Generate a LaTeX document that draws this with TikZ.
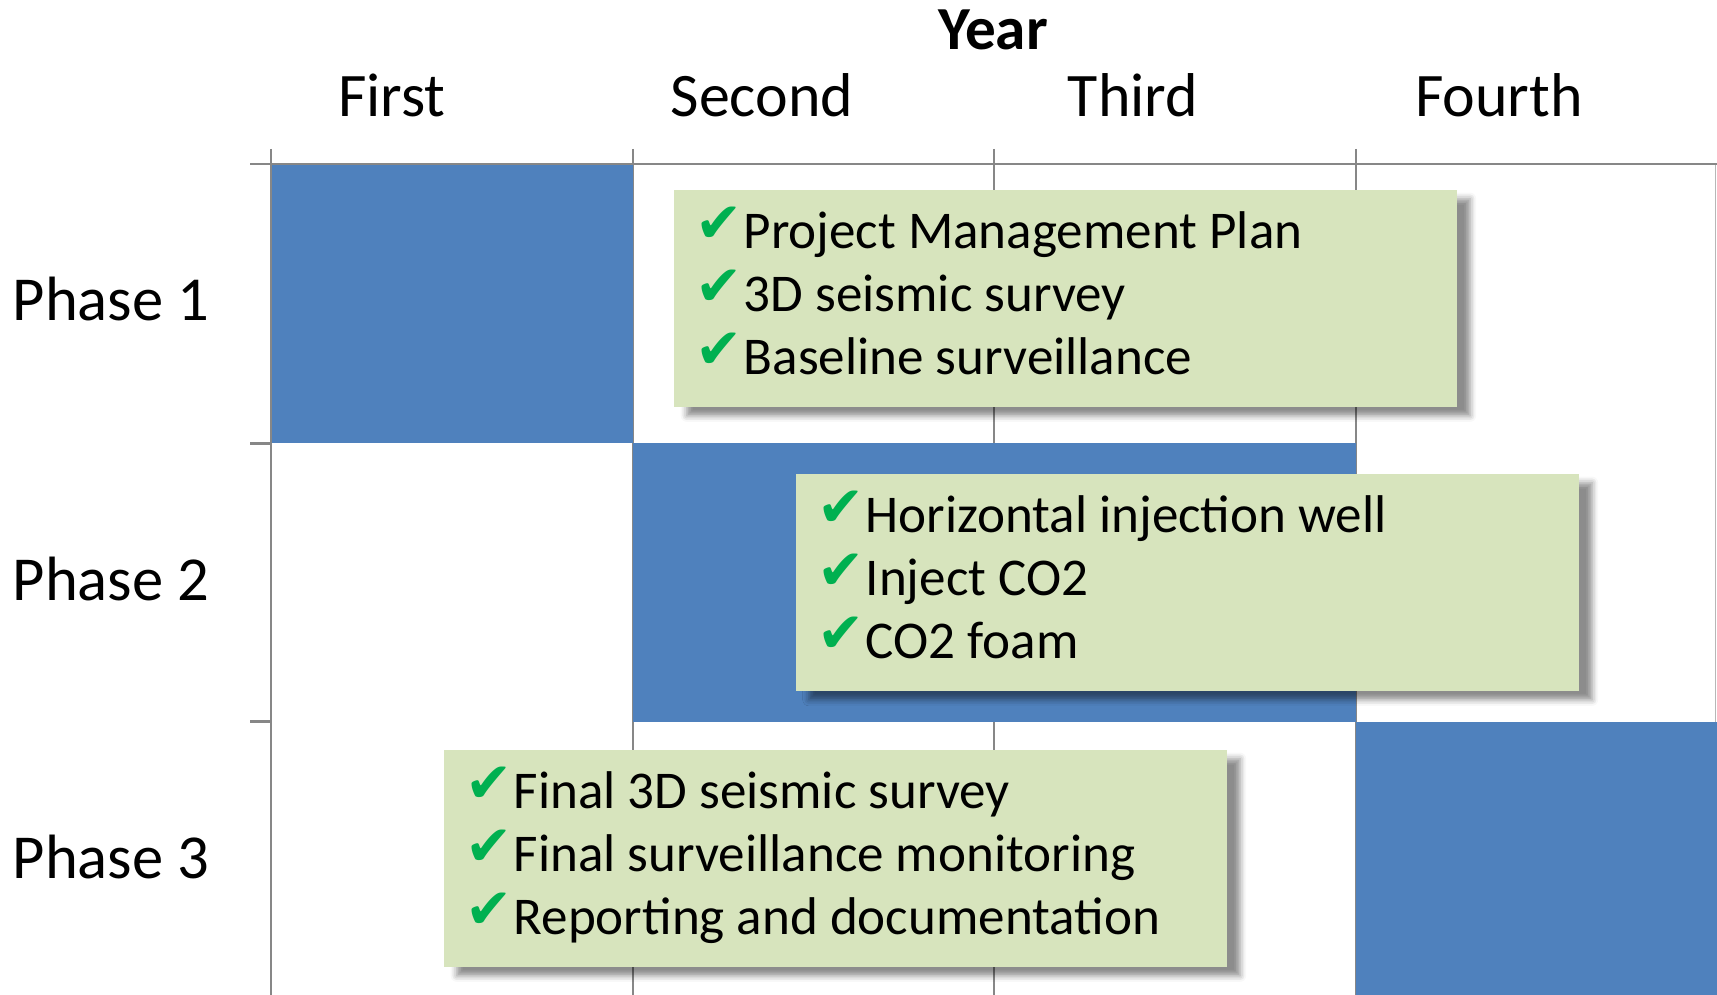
\documentclass[tikz,border=0pt]{standalone}
\usepackage{fontspec}
\setmainfont{Carlito}
\newfontfamily\symfont{DejaVu Sans}
\usepackage{tikz}
\usetikzlibrary{shadows.blur}
\usetikzlibrary{positioning}

\definecolor{barblue}{HTML}{4F81BD}
\definecolor{notegreen}{HTML}{D7E4BD}
\definecolor{tickgreen}{HTML}{00B050}
\definecolor{axisgray}{HTML}{878787}

\tikzset{
  bar/.style={fill=barblue},
  gridline/.style={draw=axisgray, line width=0.4pt},
  axisline/.style={draw=axisgray, line width=0.65pt},
  note/.style={fill=notegreen, anchor=north west, inner sep=0pt,
    minimum width=7.83cm, minimum height=2.17cm,
    blur shadow={shadow xshift=0.13cm, shadow yshift=-0.09cm,
      shadow blur radius=0.06cm, shadow opacity=45}},
  head/.style={anchor=base, font=\fontsize{17.6}{20}\selectfont},
  rowname/.style={anchor=base west, inner sep=0pt, font=\fontsize{17.8}{20}\selectfont},
  item/.style={anchor=base west, inner sep=0pt, font=\fontsize{15.1}{18}\selectfont},
  tick/.style={anchor=base west, inner sep=0pt, text=tickgreen, font=\symfont\fontsize{16}{18}\selectfont}
}

\begin{document}
\begin{tikzpicture}[x=0.01cm, y=-0.01cm]
\useasboundingbox (0,0) rectangle (1717,995);

% grid behind the bars
\foreach \x in {633,994,1356}
  \draw[gridline] (\x,149) -- (\x,995);
\draw[gridline, draw=axisgray!60] (1715.5,164) -- (1715.5,722);

% phase bars
\fill[bar] (271,164) rectangle (633,443.5);
\fill[bar] (633,443.5) rectangle (1356,721.6);
\fill[bar] (1356,721.6) rectangle (1717,995);

% axes
\draw[axisline] (250,164) -- (1717,164);
\draw[axisline] (271,149) -- (271,995);
\foreach \y in {443.5,721.6}
  \draw[axisline] (250,\y) -- (271,\y);

% headings
\node[head, font=\bfseries\fontsize{17.4}{20}\selectfont] (year) at (993,50) {Year};
\foreach \x/\t [count=\i] in {392/First, 762/Second, 1133/Third, 1499/Fourth}
  \node[head] (col\i) at (\x,117) {\t};
\foreach \y [count=\i] in {321,601,879}
  \node[rowname] (phase\i) at (12,\y) {Phase \i};

% notes
\node[note] (note1) at (673,189) {};
\node[note] (note2) at (795,473) {};
\node[note] (note3) at (443,749) {};

\foreach \t [count=\i] in {Project Management Plan, 3D seismic survey, Baseline surveillance}{
  \node[tick] (n1c\i) at (695,{249+63*(\i-1)-6}) {✔};
  \node[item] (n1t\i) at (743,{249+63*(\i-1)}) {\t};
}
\foreach \t [count=\i] in {Horizontal injection well, Inject CO2, CO2 foam}{
  \node[tick] (n2c\i) at (817,{533+63*(\i-1)-6}) {✔};
  \node[item] (n2t\i) at (865,{533+63*(\i-1)}) {\t};
}
\foreach \t [count=\i] in {Final 3D seismic survey, Final surveillance monitoring, Reporting and documentation}{
  \node[tick] (n3c\i) at (465,{809+63*(\i-1)-6}) {✔};
  \node[item] (n3t\i) at (513,{809+63*(\i-1)}) {\t};
}
\end{tikzpicture}
\end{document}
